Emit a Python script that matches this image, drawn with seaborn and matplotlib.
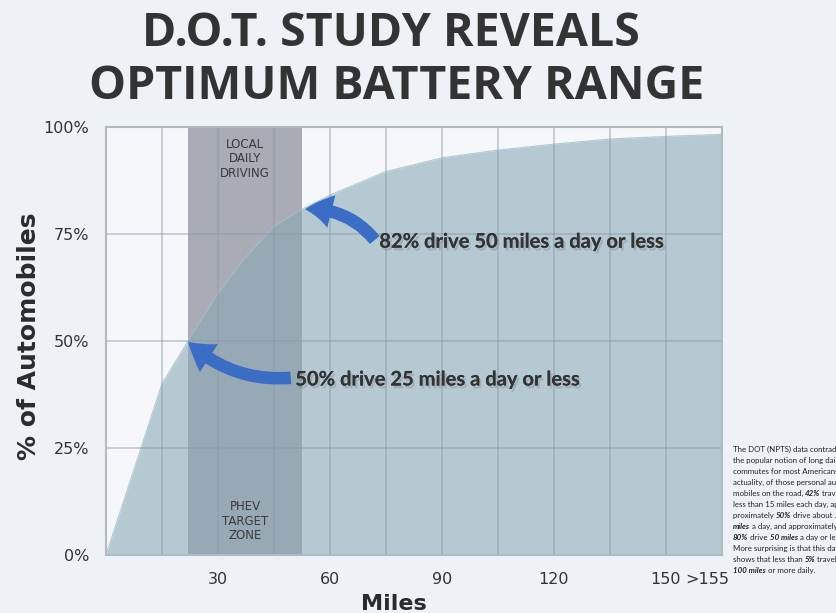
import numpy as np
import matplotlib
matplotlib.use('Agg')
import matplotlib.pyplot as plt
import matplotlib.patheffects as pe
import seaborn as sns

# curva acumulada: millas por dia vs % de automoviles
miles = [0, 15, 22, 30, 37, 45, 53, 60, 75, 90, 105, 120, 135, 150, 165]
pct = [0, 40, 50, 61, 69, 76.7, 81, 84.1, 89.6, 92.8, 94.6, 96, 97.2, 97.8, 98.3]

y_ticks = [0, 25, 50, 75, 100]
y_labels = ['0%', '25%', '50%', '75%', '100%']
x_ticks = [30, 60, 90, 120, 150, 161]
x_labels = ['30', '60', '90', '120', '150', '>155']
grid_x = list(range(15, 165, 15))

zone = (22, 52.5)
zone_top = 'LOCAL\nDAILY\nDRIVING'
zone_bottom = 'PHEV\nTARGET\nZONE'

# (texto, punto de la flecha, cola de la flecha)
notes = [
    ('82% drive 50 miles a day or less', (53.3, 80.8), (72, 73.6)),
    ('50% drive 25 miles a day or less', (22, 49.8), (49.5, 41.4)),
]

side_lines = [
    [('The DOT (NPTS) data contradicts', 'n')],
    [('the popular notion of long daily', 'n')],
    [('commutes for most Americans. In', 'n')],
    [('actuality, of those personal auto-', 'n')],
    [('mobiles on the road, ', 'n'), ('42%', 'b'), (' travel', 'n')],
    [('less than 15 miles each day, ap-', 'n')],
    [('proximately ', 'n'), ('50%', 'b'), (' drive about ', 'n'), ('25', 'b')],
    [('miles', 'b'), (' a day, and approximately', 'n')],
    [('80%', 'b'), (' drive ', 'n'), ('50 miles', 'b'), (' a day or less.', 'n')],
    [('More surprising is that this data', 'n')],
    [('shows that less than ', 'n'), ('5%', 'b'), (' travel', 'n')],
    [('100 miles', 'b'), (' or more daily.', 'n')],
]

sns.set_theme(style='white')
plt.rcParams['font.family'] = ['DejaVu Sans']

fig = plt.figure(figsize=(8.36, 6.13), dpi=100, facecolor='#eef2f7')
ax = fig.add_axes([0.1268, 0.0946, 0.7368, 0.6982])
ax.set_facecolor('#f5f7fa')

# zona gris
ax.axvspan(zone[0], zone[1], color='#a9abb5', lw=0, zorder=1)

# area bajo la curva
sns.lineplot(x=miles, y=pct, ax=ax, color='#b4c9d1', lw=0.8, zorder=2)
poly = ax.fill_between(miles, pct, 0, color='#b4c9d1', lw=0, zorder=2)

# zona sobre el area (mas oscura)
dark = ax.axvspan(zone[0], zone[1], color='#97a9b5', lw=0, zorder=3)
dark.set_clip_path(poly.get_paths()[0], ax.transData)

# rejilla
for gx in grid_x:
    ax.axvline(gx, color='#8e9ba8', alpha=0.45, lw=1.4, zorder=4)
for gy in y_ticks[1:-1]:
    ax.axhline(gy, color='#8e9ba8', alpha=0.45, lw=1.4, zorder=4)
for s in ax.spines.values():
    s.set_color('#b3b9c1')
    s.set_linewidth(1.5)
    s.set_zorder(5)

ax.set_xlim(0, 165)
ax.set_ylim(0, 100)
ax.set_yticks(y_ticks)
ax.set_yticklabels(y_labels)
ax.set_xticks(x_ticks)
ax.set_xticklabels(x_labels)
ax.tick_params(axis='both', length=0, labelsize=11.5, colors='#333333')
ax.tick_params(axis='y', pad=12)
ax.tick_params(axis='x', pad=12)

ax.set_ylabel('% of Automobiles', fontsize=18, fontweight='bold', color='#2b2b2b')
ax.yaxis.set_label_coords(-0.106, 0.51)
ax.set_xlabel('Miles', fontsize=16, fontweight='bold', color='#2b2b2b')
ax.xaxis.set_label_coords(0.468, -0.09)

# etiquetas de la zona
zx = (zone[0] + zone[1]) / 2
ax.text(zx, 97.5, zone_top, ha='center', va='top', fontsize=8.5, color='#3a3a3a',
        linespacing=1.15, zorder=6)
ax.text(zx, 3, zone_bottom, ha='center', va='bottom', fontsize=8.5, color='#3a3a3a',
        linespacing=1.15, zorder=6)

# flechas y textos
shadow = [pe.withSimplePatchShadow(offset=(1.5, -2), shadow_rgbFace='#666666', alpha=0.25), pe.Normal()]
rads = [0.25, -0.22]
for (txt, head, tail), rad in zip(notes, rads):
    ax.annotate('', xy=head, xytext=tail, zorder=7,
                arrowprops=dict(arrowstyle='simple,head_length=0.95,head_width=1.2,tail_width=0.45',
                                connectionstyle=f'arc3,rad={rad}', color='#3b6cc6', lw=0,
                                mutation_scale=20, shrinkA=0, shrinkB=0))
    ax.text(tail[0] + 1.2, tail[1] - 0.4, txt, ha='left', va='center', fontsize=14.5,
            fontweight='bold', color='#333333', family=['Lato', 'DejaVu Sans'],
            path_effects=shadow, zorder=8)

# titulo
title_kw = dict(ha='center', va='baseline', fontsize=33.5, fontweight='bold', color='#333333',
                family=['Open Sans', 'DejaVu Sans'])
fig.text(0.468, 0.925, 'D.O.T. STUDY REVEALS', **title_kw)
fig.text(0.475, 0.8385, 'OPTIMUM BATTERY RANGE', **title_kw)

# texto lateral, con trozos en negrita cursiva
y0 = 1 - 453 / 613
dy = 11 / 613
for i, line in enumerate(side_lines):
    prev = None
    for seg, st in line:
        kw = dict(fontsize=5.7, color='#222222', family=['Lato', 'DejaVu Sans'],
                  ha='left', va='bottom')
        if st == 'b':
            kw.update(fontweight='bold', fontstyle='italic')
        if prev is None:
            prev = fig.text(733 / 836, y0 - i * dy, seg, **kw)
        else:
            prev = ax.annotate(seg, xy=(1, 0), xycoords=prev, annotation_clip=False, **kw)

fig.savefig('out.png', dpi=100, facecolor=fig.get_facecolor())
